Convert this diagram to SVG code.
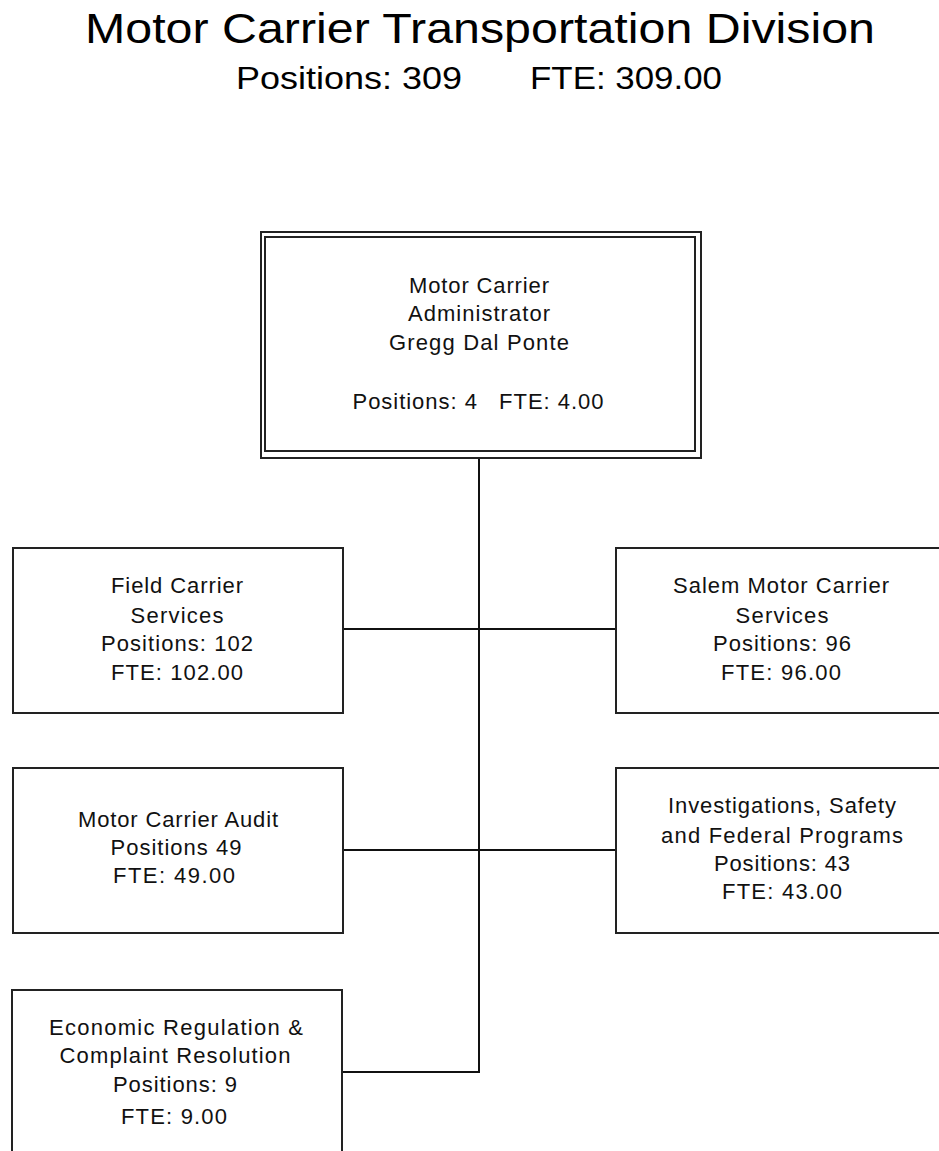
<svg xmlns="http://www.w3.org/2000/svg" width="939" height="1151" viewBox="0 0 939 1151">
  <style>
    .box { fill: #ffffff; stroke: #222222; stroke-width: 2; }
    .wire { fill: none; stroke: #111111; stroke-width: 2; }
    .lbl { font-family: "Liberation Sans", Arial, sans-serif; font-size: 22px; fill: #111111; text-anchor: middle; }
    .title { font-family: "Liberation Sans", Arial, sans-serif; fill: #000000; }
  </style>
  <rect width="939" height="1151" fill="#ffffff"/>

  <!-- heading -->
  <g id="heading">
    <text class="title" x="85" y="43" font-size="43" textLength="790" lengthAdjust="spacingAndGlyphs">Motor Carrier  Transportation  Division</text>
    <text class="title" x="236" y="89" font-size="32" textLength="226" lengthAdjust="spacingAndGlyphs">Positions: 309</text>
    <text class="title" x="530" y="89" font-size="32" textLength="192" lengthAdjust="spacingAndGlyphs">FTE: 309.00</text>
  </g>

  <!-- connectors -->
  <g id="connectors">
    <line class="wire" x1="479" y1="458" x2="479" y2="1072"/>
    <line class="wire" x1="343" y1="629" x2="616" y2="629"/>
    <line class="wire" x1="343" y1="850" x2="616" y2="850"/>
    <line class="wire" x1="342" y1="1072" x2="480" y2="1072"/>
  </g>

  <!-- administrator -->
  <g id="administrator">
    <rect class="box" x="261" y="232" width="440" height="226"/>
    <rect class="box" x="265" y="237" width="430" height="214" fill="none"/>
    <text class="lbl" x="479" y="293" textLength="140" lengthAdjust="spacing">Motor Carrier</text>
    <text class="lbl" x="479" y="321" textLength="142" lengthAdjust="spacing">Administrator</text>
    <text class="lbl" x="479" y="350" textLength="180" lengthAdjust="spacing">Gregg Dal Ponte</text>
    <text class="lbl" x="478" y="409" textLength="251" lengthAdjust="spacing" xml:space="preserve">Positions: 4   FTE: 4.00</text>
  </g>

  <!-- field carrier services -->
  <g id="field-carrier">
    <rect class="box" x="13" y="548" width="330" height="165"/>
    <text class="lbl" x="177" y="593" textLength="132" lengthAdjust="spacing">Field Carrier</text>
    <text class="lbl" x="177" y="623" textLength="93" lengthAdjust="spacing">Services</text>
    <text class="lbl" x="177" y="651" textLength="152" lengthAdjust="spacing">Positions: 102</text>
    <text class="lbl" x="177" y="680" textLength="132" lengthAdjust="spacing">FTE: 102.00</text>
  </g>

  <!-- salem motor carrier services -->
  <g id="salem">
    <rect class="box" x="616" y="548" width="332" height="165"/>
    <text class="lbl" x="781" y="593" textLength="216" lengthAdjust="spacing">Salem Motor Carrier</text>
    <text class="lbl" x="782" y="623" textLength="93" lengthAdjust="spacing">Services</text>
    <text class="lbl" x="782" y="651" textLength="138" lengthAdjust="spacing">Positions: 96</text>
    <text class="lbl" x="781" y="680" textLength="120" lengthAdjust="spacing">FTE: 96.00</text>
  </g>

  <!-- motor carrier audit -->
  <g id="audit">
    <rect class="box" x="13" y="768" width="330" height="165"/>
    <text class="lbl" x="178" y="827" textLength="200" lengthAdjust="spacing">Motor Carrier Audit</text>
    <text class="lbl" x="176" y="855" textLength="131" lengthAdjust="spacing">Positions 49</text>
    <text class="lbl" x="174" y="883" textLength="122" lengthAdjust="spacing">FTE: 49.00</text>
  </g>

  <!-- investigations, safety and federal programs -->
  <g id="investigations">
    <rect class="box" x="616" y="768" width="332" height="165"/>
    <text class="lbl" x="782" y="813" textLength="228" lengthAdjust="spacing">Investigations, Safety</text>
    <text class="lbl" x="782" y="843" textLength="242" lengthAdjust="spacing">and Federal Programs</text>
    <text class="lbl" x="782" y="871" textLength="136" lengthAdjust="spacing">Positions: 43</text>
    <text class="lbl" x="782" y="899" textLength="120" lengthAdjust="spacing">FTE: 43.00</text>
  </g>

  <!-- economic regulation & complaint resolution -->
  <g id="economic">
    <rect class="box" x="12" y="990" width="330" height="175"/>
    <text class="lbl" x="176" y="1035" textLength="254" lengthAdjust="spacing">Economic Regulation &amp;</text>
    <text class="lbl" x="175" y="1063" textLength="231" lengthAdjust="spacing">Complaint Resolution</text>
    <text class="lbl" x="175" y="1092" textLength="124" lengthAdjust="spacing">Positions: 9</text>
    <text class="lbl" x="174" y="1124" textLength="106" lengthAdjust="spacing">FTE: 9.00</text>
  </g>
</svg>
